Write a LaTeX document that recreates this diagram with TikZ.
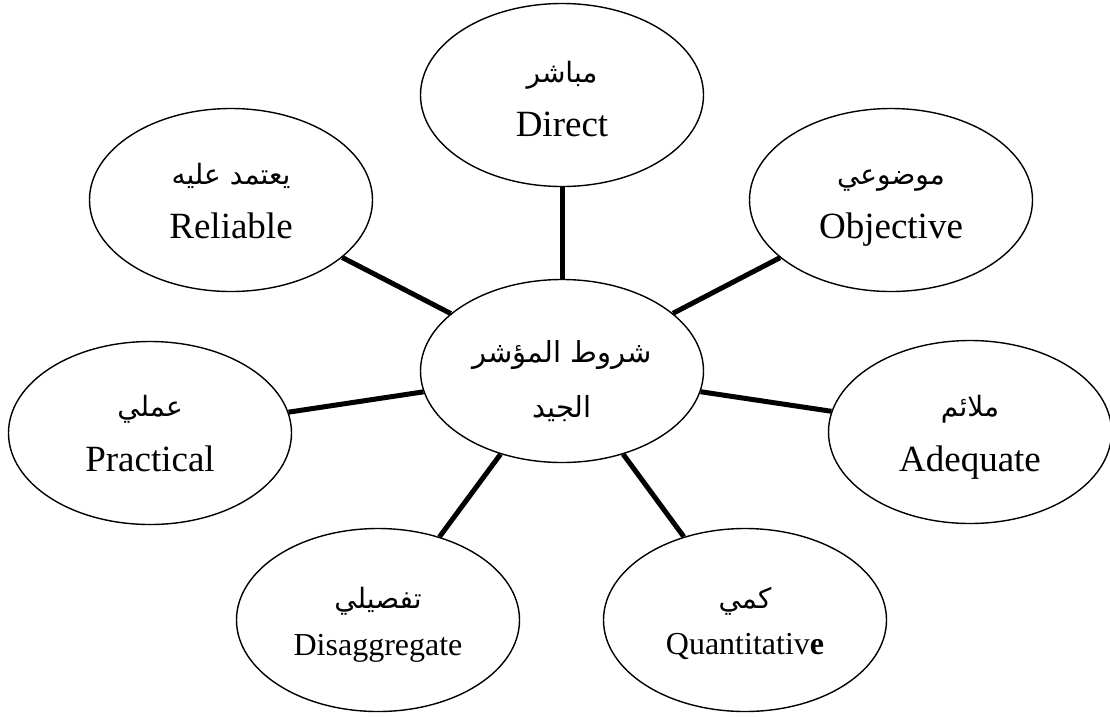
\documentclass[tikz,border=0pt]{standalone}
\usepackage{fontspec}
\setmainfont{Liberation Serif}
\newfontfamily\arabicfont[Script=Arabic]{DejaVu Sans}
\TeXXeTstate=1
\usetikzlibrary{shapes.geometric}

\tikzset{
  bubble/.style={draw, ellipse, line width=1.4pt, minimum width=283pt,
    minimum height=183pt, inner sep=0pt},
  artxt/.style={anchor=base, inner sep=0pt, font=\arabicfont\fontsize{28}{34}\selectfont},
  hubtxt/.style={anchor=base, inner sep=0pt, font=\arabicfont\fontsize{29}{34}\selectfont},
  entxt/.style={anchor=base, inner sep=0pt, font=\fontsize{37}{44}\selectfont},
  ensmall/.style={anchor=base, inner sep=0pt, font=\fontsize{32}{38}\selectfont},
  conn/.style={line width=5pt}
}

\begin{document}
\begin{tikzpicture}[x=1pt, y=-1pt]
  \useasboundingbox (0,0) rectangle (1110,716);

  % ellipses
  \node[bubble] (hub)       at (562,371) {};
  \node[bubble] (direct)    at (562,95)  {};
  \node[bubble] (reliable)  at (231,200) {};
  \node[bubble] (objective) at (891,200) {};
  \node[bubble] (practical) at (150,433) {};
  \node[bubble] (adequate)  at (970,432) {};
  \node[bubble] (disagg)    at (378,620) {};
  \node[bubble] (quant)     at (745,620) {};

  % hub label
  \node[hubtxt] (hub-a) at (562,362) {\beginR شروط المؤشر\endR};
  \node[hubtxt] (hub-b) at (562,417) {\beginR الجيد\endR};

  % outer labels: Arabic above, English below
  \node[artxt] (direct-a)    at (562,82)  {\beginR مباشر\endR};
  \node[entxt] (direct-e)    at (562,136) {Direct};
  \node[artxt] (reliable-a)  at (231,184) {\beginR يعتمد عليه\endR};
  \node[entxt] (reliable-e)  at (231,238) {Reliable};
  \node[artxt] (objective-a) at (891,184) {\beginR موضوعي\endR};
  \node[entxt] (objective-e) at (891,238) {Objective};
  \node[artxt] (practical-a) at (150,416) {\beginR عملي\endR};
  \node[entxt] (practical-e) at (150,471) {Practical};
  \node[artxt] (adequate-a)  at (970,416) {\beginR ملائم\endR};
  \node[entxt] (adequate-e)  at (970,471) {Adequate};
  \node[artxt] (disagg-a)    at (378,608) {\beginR تفصيلي\endR};
  \node[ensmall] (disagg-e)  at (378,655) {Disaggregate};
  \node[artxt] (quant-a)     at (745,608) {\beginR كمي\endR};
  \node[ensmall] (quant-e)   at (745,654) {Quantitativ\textbf{e}};

  % spokes
  \foreach \n in {direct, reliable, objective, practical, adequate, disagg, quant}
    \draw[conn] (hub) -- (\n);
\end{tikzpicture}
\end{document}
